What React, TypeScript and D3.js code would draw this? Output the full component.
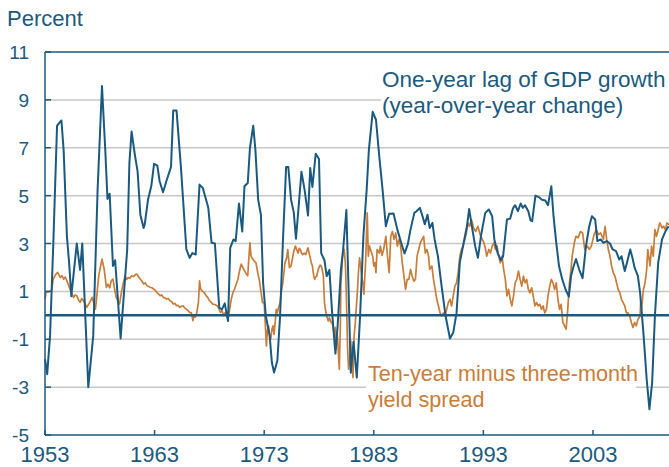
import React from "react";
import * as d3 from "d3";

const yTicks = [-5, -3, -1, 1, 3, 5, 7, 9, 11];
const xTicks = [1953, 1963, 1973, 1983, 1993, 2003];

const gdpYears = [
  1953.0, 1953.2, 1953.46, 1953.76, 1954.1, 1954.5, 1954.7, 1955.0, 1955.2, 1955.4, 1955.9, 1956.2, 1956.4, 1956.95,
  1957.4, 1957.8, 1958.2, 1958.5, 1958.7, 1958.9, 1959.2, 1959.4, 1959.9, 1960.5, 1960.7, 1960.9, 1961.2, 1961.45,
  1961.7, 1962.0, 1962.1, 1962.4, 1962.7, 1962.95, 1963.25, 1963.46, 1963.77, 1964.07, 1964.5, 1964.7, 1965.0, 1965.4,
  1965.9, 1966.2, 1966.45, 1966.75, 1967.1, 1967.4, 1967.9, 1968.2, 1968.5, 1968.9, 1969.15, 1969.4, 1969.7, 1969.9,
  1970.2, 1970.4, 1970.7, 1971.0, 1971.2, 1971.5, 1971.7, 1972.0, 1972.2, 1972.45, 1972.7, 1972.9, 1973.15, 1973.5,
  1973.7, 1973.9, 1974.2, 1974.45, 1974.7, 1975.0, 1975.2, 1975.45, 1975.7, 1975.9, 1976.1, 1976.4, 1976.7, 1977.0,
  1977.2, 1977.4, 1977.7, 1978.0, 1978.2, 1978.5, 1978.7, 1978.95, 1979.2, 1979.5, 1979.7, 1980.0, 1980.2, 1980.5,
  1980.7, 1980.9, 1981.15, 1981.45, 1981.75, 1982.05, 1982.35, 1982.55, 1982.9, 1983.2, 1983.5, 1983.8, 1984.1, 1984.4,
  1984.8, 1985.15, 1985.5, 1985.8, 1986.1, 1986.35, 1986.7, 1986.9, 1987.2, 1987.45, 1987.65, 1987.9, 1988.1, 1988.35,
  1988.55, 1988.85, 1989.15, 1989.55, 1989.95, 1990.25, 1990.55, 1990.85, 1991.2, 1991.5, 1991.7, 1992.0, 1992.25,
  1992.5, 1992.8, 1993.17, 1993.5, 1993.8, 1994.0, 1994.3, 1994.6, 1994.8, 1995.15, 1995.45, 1995.7, 1995.9, 1996.15,
  1996.4, 1996.6, 1996.8, 1997.1, 1997.3, 1997.45, 1997.75, 1998.05, 1998.35, 1998.65, 1998.9, 1999.2, 1999.4,
  1999.65, 1999.9, 2000.2, 2000.5, 2000.8, 2001.0, 2001.2, 2001.45, 2001.75, 2002.05, 2002.36, 2002.66, 2002.9,
  2003.2, 2003.4, 2003.7, 2003.95, 2004.25, 2004.55, 2004.8, 2005.1, 2005.4, 2005.6, 2005.9, 2006.1, 2006.4, 2006.6,
  2006.8, 2007.1, 2007.3, 2007.6, 2007.9, 2008.15, 2008.4, 2008.65, 2008.95, 2009.3, 2009.6, 2009.9,
];
const gdpValues = [
  -1.83, -2.46, -0.86, 3.03, 7.92, 8.14, 6.9, 3.3, 2.2, 0.8, 3.0, 1.9, 3.0, -3.0,
  -0.86, 5.25, 9.58, 6.9, 4.86, 5.08, 2.06, 2.3, -0.97, 2.75, 6.36, 7.68, 6.7, 6.0,
  4.2, 3.65, 3.8, 4.83, 5.4, 6.33, 6.25, 5.6, 5.14, 5.6, 6.2, 8.56, 8.56, 6.2,
  2.75, 2.4, 2.6, 2.54, 5.46, 5.32, 4.49, 3.03, 3.0, 0.32, 0.25, 0.5, -0.24, 2.82,
  3.17, 3.1, 4.67, 3.5, 5.39, 5.53, 6.99, 7.92, 6.9, 4.83, 4.2, 1.36, -0.03, -0.86,
  -1.97, -2.39, -1.9, -0.03, 3.0, 6.2, 6.2, 4.83, 4.3, 3.2, 4.3, 6.0, 5.2, 4.17,
  6.15, 5.36, 6.75, 6.53, 2.6, 2.3, 1.64, 1.9, 0.1, -1.6, -0.45, 1.9, 2.75, 4.4,
  1.08, -2.4, -1.1, -2.6, -0.03, 3.3, 5.25, 6.9, 8.5, 8.17, 6.64, 5.25, 3.72, 4.24,
  4.25, 3.58, 3.03, 2.58, 2.96, 3.58, 4.28, 4.35, 4.49, 4.14, 3.8, 4.2, 3.65, 3.86,
  3.17, 2.47, 1.36, -0.03, -0.97, -0.72, 0.1, 2.2, 3.03, 3.72, 4.44, 3.58, 2.89,
  2.4, 3.37, 4.28, 4.42, 4.14, 3.17, 2.6, 2.3, 2.47, 4.0, 4.04, 4.47, 4.6, 4.35,
  4.67, 4.49, 4.6, 4.35, 3.97, 3.93, 5.0, 4.94, 4.83, 4.8, 4.6, 5.39, 4.14,
  3.03, 2.06, 1.5, 1.08, 0.78, 1.64, 2.0, 2.35, 1.9, 1.55, 2.89, 3.72, 4.14,
  4.0, 3.1, 3.17, 3.03, 3.1, 3.0, 2.75, 2.68, 2.33, 2.47, 1.85, 2.2, 2.75, 2.4,
  1.99, 1.64, 0.94, -0.72, -2.67, -3.92, -2.8, -0.03, 2.2, 3.17, 3.5, 3.72,
];

const spreadYears = [
  1953.0, 1953.1, 1953.3, 1953.6, 1953.75, 1954.0, 1954.15, 1954.4, 1954.55, 1954.7, 1954.85, 1955.0, 1955.2, 1955.4,
  1955.6, 1955.75, 1955.9, 1956.05, 1956.2, 1956.35, 1956.5, 1956.65, 1956.8, 1957.0, 1957.15, 1957.3, 1957.45, 1957.6,
  1957.7, 1957.9, 1958.05, 1958.2, 1958.4, 1958.6, 1958.75, 1958.9, 1959.05, 1959.2, 1959.35, 1959.5, 1959.65, 1959.8,
  1960.0, 1960.15, 1960.3, 1960.45, 1960.6, 1960.75, 1960.9, 1961.1, 1961.25, 1961.4, 1961.55, 1961.7, 1961.85, 1962.0,
  1962.15, 1962.3, 1962.45, 1962.6, 1962.75, 1962.9, 1963.05, 1963.2, 1963.35, 1963.5, 1963.65, 1963.8, 1963.95,
  1964.1, 1964.25, 1964.4, 1964.55, 1964.7, 1964.85, 1965.0, 1965.15, 1965.3, 1965.45, 1965.6, 1965.75, 1965.9,
  1966.05, 1966.2, 1966.35, 1966.5, 1966.6, 1966.7, 1966.85, 1967.0, 1967.1, 1967.2, 1967.3, 1967.4, 1967.5, 1967.6,
  1967.7, 1967.85, 1968.0, 1968.15, 1968.3, 1968.5, 1968.7, 1968.85, 1969.0, 1969.15, 1969.3, 1969.45, 1969.55,
  1969.7, 1969.85, 1970.0, 1970.15, 1970.3, 1970.45, 1970.6, 1970.75, 1970.9, 1971.05, 1971.2, 1971.35, 1971.5,
  1971.6, 1971.7, 1971.8, 1971.95, 1972.1, 1972.25, 1972.4, 1972.55, 1972.7, 1972.85, 1973.0, 1973.2, 1973.3,
  1973.4, 1973.5, 1973.6, 1973.7, 1973.8, 1973.9, 1974.0, 1974.1, 1974.2, 1974.3, 1974.45, 1974.6, 1974.7, 1974.8,
  1974.9, 1975.05, 1975.15, 1975.3, 1975.45, 1975.55, 1975.7, 1975.85, 1976.0, 1976.1, 1976.2, 1976.3, 1976.4,
  1976.5, 1976.65, 1976.8, 1976.9, 1977.0, 1977.1, 1977.2, 1977.3, 1977.4, 1977.5, 1977.6, 1977.7, 1977.8, 1977.9,
  1978.0, 1978.1, 1978.2, 1978.3, 1978.4, 1978.5, 1978.6, 1978.7, 1978.85, 1978.95, 1979.1, 1979.2, 1979.3, 1979.4,
  1979.5, 1979.55, 1979.65, 1979.7, 1979.8, 1979.85, 1979.95, 1980.0, 1980.1, 1980.15, 1980.3, 1980.4, 1980.45,
  1980.55, 1980.6, 1980.7, 1980.8, 1980.9, 1981.0, 1981.1, 1981.2, 1981.3, 1981.35, 1981.5, 1981.6, 1981.7, 1981.8,
  1981.9, 1982.0, 1982.1, 1982.25, 1982.4, 1982.5, 1982.6, 1982.7, 1982.9, 1983.0, 1983.1, 1983.2, 1983.3, 1983.5,
  1983.6, 1983.75, 1983.9, 1984.1, 1984.25, 1984.4, 1984.55, 1984.7, 1984.85, 1985.0, 1985.15, 1985.3, 1985.45,
  1985.6, 1985.75, 1985.9, 1986.05, 1986.2, 1986.35, 1986.5, 1986.65, 1986.8, 1986.95, 1987.1, 1987.25, 1987.4,
  1987.55, 1987.7, 1987.85, 1988.0, 1988.1, 1988.3, 1988.45, 1988.6, 1988.75, 1988.9, 1989.05, 1989.2, 1989.35,
  1989.5, 1989.65, 1989.8, 1989.95, 1990.1, 1990.25, 1990.4, 1990.55, 1990.7, 1990.85, 1991.0, 1991.15, 1991.3,
  1991.45, 1991.6, 1991.75, 1991.9, 1992.0, 1992.1, 1992.3, 1992.5, 1992.7, 1992.9, 1993.05, 1993.2, 1993.3, 1993.5,
  1993.65, 1993.8, 1993.95, 1994.1, 1994.25, 1994.4, 1994.55, 1994.7, 1994.85, 1995.0, 1995.15, 1995.3, 1995.45,
  1995.6, 1995.75, 1995.9, 1996.05, 1996.2, 1996.35, 1996.5, 1996.65, 1996.8, 1996.95, 1997.1, 1997.25, 1997.4,
  1997.55, 1997.7, 1997.85, 1998.0, 1998.15, 1998.3, 1998.45, 1998.6, 1998.75, 1998.9, 1999.05, 1999.2, 1999.35,
  1999.5, 1999.65, 1999.8, 1999.95, 2000.1, 2000.25, 2000.4, 2000.55, 2000.7, 2000.85, 2001.0, 2001.1, 2001.3,
  2001.45, 2001.65, 2001.85, 2002.05, 2002.25, 2002.5, 2002.65, 2002.85, 2003.1, 2003.3, 2003.5, 2003.7, 2003.95,
  2004.1, 2004.25, 2004.4, 2004.55, 2004.7, 2004.85, 2005.0, 2005.15, 2005.3, 2005.45, 2005.6, 2005.75, 2005.9,
  2006.05, 2006.2, 2006.35, 2006.5, 2006.65, 2006.8, 2006.95, 2007.1, 2007.3, 2007.35, 2007.4, 2007.6, 2007.75,
  2007.9, 2008.0, 2008.2, 2008.35, 2008.5, 2008.65, 2008.8, 2008.95, 2009.1, 2009.3, 2009.45, 2009.6, 2009.75, 2009.95,
];
const spreadValues = [
  0.68, 0.98, 0.97, 1.03, 1.51, 1.72, 1.79, 1.58, 1.66, 1.51, 1.6, 1.44, 1.2, 0.96,
  0.75, 0.85, 0.82, 0.65, 0.54, 0.7, 0.61, 0.5, 0.33, 0.47, 0.6, 0.75, 0.5, 0.26,
  0.68, 1.65, 2.0, 2.35, 1.93, 1.17, 1.3, 1.15, 1.45, 1.51, 1.1, 0.75, 0.6, 0.47,
  1.03, 1.35, 1.65, 1.5, 1.58, 1.55, 1.65, 1.62, 1.7, 1.72, 1.6, 1.51, 1.42, 1.31,
  1.35, 1.24, 1.2, 1.17, 1.15, 1.1, 1.05, 0.96, 0.9, 0.82, 0.85, 0.75, 0.72,
  0.68, 0.7, 0.61, 0.58, 0.47, 0.5, 0.4, 0.42, 0.33, 0.38, 0.4, 0.3, 0.26,
  0.2, 0.12, 0.1, -0.22, 0.0, -0.08, 0.1, 0.54, 1.44, 1.1, 1.03, 1.0, 0.96, 0.9,
  0.82, 0.75, 0.61, 0.55, 0.47, 0.45, 0.4, 0.3, 0.12, 0.2, -0.01, 0.12, 0.0,
  -0.15, 0.26, 0.68, 0.95, 1.1, 1.3, 1.51, 1.85, 2.14, 2.0, 1.86, 1.75, 1.65,
  2.4, 3.03, 2.47, 2.35, 2.26, 2.19, 1.8, 1.5, 1.0, 0.53, 0.53, -1.28, -0.6,
  -0.44, -0.9, -1.0, -0.6, -0.44, -0.8, -0.3, 0.25, 0.1, 0.3, 0.53, 1.1, 1.36, 1.8,
  2.2, 2.4, 2.75, 1.99, 2.06, 2.3, 2.68, 2.89, 2.7, 2.6, 2.8, 2.75, 2.6,
  2.54, 2.6, 2.54, 2.7, 2.82, 2.6, 2.4, 2.2, 2.06, 1.7, 1.5, 1.6, 1.64, 1.85,
  1.99, 2.1, 2.06, 1.9, 1.64, 0.53, 0.2, -0.03, -0.24, -0.1, -0.3, -0.3, -0.55, -0.8,
  -0.5, -1.4, -0.7, -1.0, -1.8, -2.25, -0.5, 1.36, 2.0, 2.47, 2.75, 2.2, 1.64,
  -0.2, -1.28, -2.25, -1.9, -1.07, -2.0, -2.6, -0.86, -0.4, -0.03, 0.94, 1.8, 2.4, 2.06,
  1.6, 1.36, 0.88, 2.19, 4.28, 2.47, 2.9, 2.75, 2.47, 2.06, 2.2, 1.78, 2.75, 2.6,
  2.89, 2.5, 2.75, 3.3, 2.47, 1.78, 3.3, 3.5, 3.17, 3.44, 2.89, 3.17, 2.89,
  2.19, 1.64, 1.08, 1.5, 1.5, 1.92, 1.64, 1.43, 1.5, 2.47, 2.75, 3.03, 3.17,
  3.3, 2.6, 2.75, 2.47, 1.92, 2.06, 1.5, 1.08, 0.67, 0.39, 0.1, -0.03, 0.1,
  -0.03, 0.25, 0.53, 0.67, 0.39, 0.81, 1.22, 1.36, 1.78, 2.47, 2.75, 2.89, 3.17,
  3.44, 3.86, 3.72, 4.0, 3.86, 3.65, 3.5, 3.72, 3.37, 3.17, 3.03, 2.75, 2.47, 2.75,
  2.6, 2.89, 3.03, 2.75, 2.89, 2.47, 2.19, 2.47, 1.92, 1.5, 0.81, 1.08, 0.67,
  0.39, 0.81, 1.36, 1.5, 1.85, 1.5, 1.22, 1.64, 1.36, 1.5, 1.08, 0.94, 1.15,
  0.81, 0.39, 0.53, 0.39, 0.46, 0.25, 0.39, 0.1, 0.25, 0.81, 1.22, 1.5, 1.36,
  1.08, 1.36, 0.67, 0.25, 0.46, -0.3, -0.44, -0.58, 0.25, 1.36, 1.92, 2.47, 3.03,
  3.3, 3.24, 3.5, 3.44, 2.75, 2.89, 2.75, 2.89, 3.37, 3.58, 3.37, 3.44, 3.17,
  3.72, 3.17, 2.75, 2.47, 2.06, 1.78, 1.64, 1.36, 1.08, 0.94, 0.67, 0.53, 0.39,
  0.1, 0.1, -0.03, -0.3, -0.51, -0.3, -0.44, -0.17, -0.03, 0.53, 0.1, 1.08, 1.36,
  1.92, 2.75, 2.06, 2.89, 2.47, 3.58, 3.3, 3.58, 3.86, 3.65, 3.72, 3.58, 3.86, 3.79,
];

const BLUE = "#1b5a80";
const ORANGE = "#c97d3a";
const GRID = "#c8c8c8";
const FONT = "Liberation Sans, Arial, sans-serif";

export default function App() {
  const W = 669;
  const H = 467;
  const x = d3.scaleLinear().domain([1953, 2010]).range([45, 669.7]);
  const y = d3.scaleLinear().domain([-5, 11]).range([435, 52]);

  const gdp = gdpYears.map((t, i) => [t, gdpValues[i]] as [number, number]);
  const spread = spreadYears.map((t, i) => [t, spreadValues[i]] as [number, number]);
  const line = d3
    .line<[number, number]>()
    .x((d) => x(d[0]))
    .y((d) => y(d[1]));

  const x0 = x(1953);
  const x1 = W;

  return (
    <svg
      width={W}
      height={H}
      style={{ position: "absolute", left: 0, top: 0, background: "#fff" }}
      fontFamily={FONT}
    >
      <rect x={0} y={0} width={W} height={H} fill="#fff" />
      {yTicks
        .filter((t) => t !== -5 && t !== 11)
        .map((t) => (
          <line key={"g" + t} x1={x0} x2={x1} y1={y(t)} y2={y(t)} stroke={GRID} strokeWidth={1.5} />
        ))}
      <path d={line(spread) || ""} fill="none" stroke={ORANGE} strokeWidth={1.7} strokeLinejoin="round" />
      <path d={line(gdp) || ""} fill="none" stroke={BLUE} strokeWidth={2} strokeLinejoin="round" />
      <line x1={x0} x2={x1} y1={y(0)} y2={y(0)} stroke={BLUE} strokeWidth={2.5} />
      <line x1={x0} x2={x1} y1={y(11)} y2={y(11)} stroke={BLUE} strokeWidth={1.5} />
      <line x1={x0} x2={x1} y1={y(-5)} y2={y(-5)} stroke={BLUE} strokeWidth={1.5} />
      <line x1={x0} x2={x0} y1={y(11)} y2={y(-5)} stroke={BLUE} strokeWidth={1.5} />
      {yTicks.map((t) => (
        <g key={"yt" + t}>
          <line x1={x0} x2={x0 + 6} y1={y(t)} y2={y(t)} stroke={BLUE} strokeWidth={1.5} />
          <text x={29} y={y(t) + 7} textAnchor="end" fontSize={19} fill={BLUE}>
            {t}
          </text>
        </g>
      ))}
      {xTicks.map((t) => (
        <g key={"xt" + t}>
          <line x1={x(t)} x2={x(t)} y1={y(-5)} y2={y(-5) - 5} stroke={BLUE} strokeWidth={1.5} />
          <text x={x(t)} y={462} textAnchor="middle" fontSize={22} fill={BLUE}>
            {t}
          </text>
        </g>
      ))}
      <text x={7} y={26} fontSize={22} fill={BLUE}>
        Percent
      </text>
      <rect x={381} y={64} width={290} height={56} fill="#fff" />
      <text x={382} y={87} fontSize={22.5} fill={BLUE}>
        One-year lag of GDP growth
      </text>
      <text x={382} y={113} fontSize={22.5} fill={BLUE}>
        (year-over-year change)
      </text>
      <rect x={366} y={362} width={270} height={50} fill="#fff" />
      <text x={368} y={381} fontSize={21.6} fill={ORANGE}>
        Ten-year minus three-month
      </text>
      <text x={368} y={407} fontSize={21.6} fill={ORANGE}>
        yield spread
      </text>
    </svg>
  );
}
